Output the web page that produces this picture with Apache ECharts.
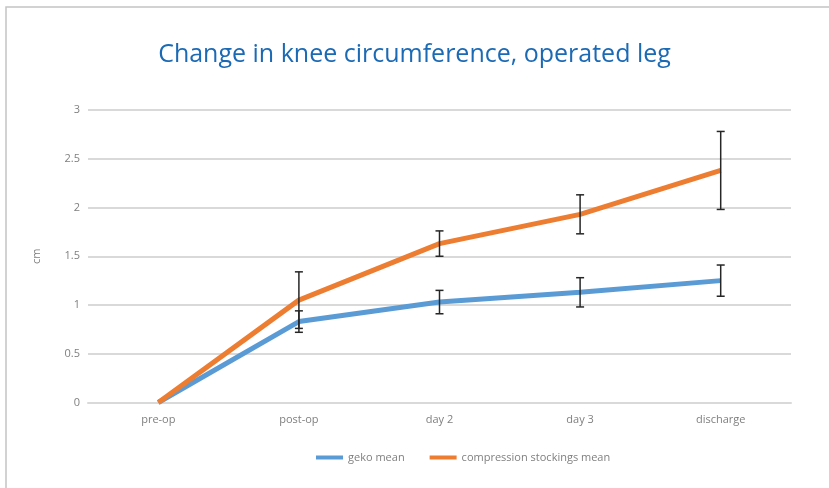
<!DOCTYPE html>
<html>
<head>
<meta charset="utf-8">
<script src="https://cdn.jsdelivr.net/npm/echarts@6/dist/echarts.min.js"></script>
<style>
  html, body { margin: 0; padding: 0; background: #fff; }
  #main { width: 829px; height: 488px; }
</style>
</head>
<body>
<div id="main"></div>
<script>
// data
var categories = ['pre-op', 'post-op', 'day 2', 'day 3', 'discharge']
var gekoMean = [0, 0.83, 1.03, 1.13, 1.25]
var gekoErr = [null, 0.11, 0.12, 0.15, 0.16]
var stockMean = [0, 1.05, 1.63, 1.93, 2.38]
var stockErr = [null, 0.29, 0.13, 0.2, 0.4]

function errData(mean, err) {
  var out = []
  for (var i = 0; i < mean.length; i++) {
    if (err[i] == null) continue
    out.push([i, mean[i] - err[i], mean[i] + err[i]])
  }
  return out
}

function renderErr(params, api) {
  var lo = api.coord([api.value(0), api.value(1)])
  var hi = api.coord([api.value(0), api.value(2)])
  var w = 4
  var style = { stroke: '#262626', lineWidth: 1.5 }
  return {
    type: 'group',
    children: [
      { type: 'line', shape: { x1: hi[0], y1: hi[1], x2: lo[0], y2: lo[1] }, style: style },
      { type: 'line', shape: { x1: hi[0] - w, y1: hi[1], x2: hi[0] + w, y2: hi[1] }, style: style },
      { type: 'line', shape: { x1: lo[0] - w, y1: lo[1], x2: lo[0] + w, y2: lo[1] }, style: style }
    ]
  }
}

var chart = echarts.init(document.getElementById('main'))
chart.setOption({
  animation: false,
  backgroundColor: '#fff',
  graphic: [{
    type: 'rect',
    shape: { x: 6, y: 7, width: 900, height: 600 },
    style: { fill: 'none', stroke: '#c4c4c4', lineWidth: 1.5 },
    silent: true
  }],
  title: {
    text: 'Change in knee circumference, operated leg',
    left: 'center',
    top: 37,
    textStyle: {
      fontFamily: 'Open Sans',
      fontSize: 25,
      fontWeight: 'normal',
      color: '#1b6ab5'
    }
  },
  grid: {
    left: 88,
    right: 38,
    top: 110,
    bottom: 85.5
  },
  legend: {
    left: 316,
    top: 452,
    padding: 0,
    itemWidth: 27,
    itemHeight: 4,
    itemGap: 25,
    icon: 'rect',
    textStyle: { fontFamily: 'Open Sans', fontSize: 11, color: '#7f7f7f' },
    data: ['geko mean', 'compression stockings mean']
  },
  xAxis: {
    type: 'category',
    data: categories,
    boundaryGap: true,
    axisLine: { lineStyle: { color: '#d9d9d9', width: 2 } },
    axisTick: { show: false },
    axisLabel: { color: '#7f7f7f', fontFamily: 'Open Sans', fontSize: 11, margin: 12 }
  },
  yAxis: {
    type: 'value',
    min: 0,
    max: 3,
    interval: 0.5,
    name: 'cm',
    nameLocation: 'middle',
    nameGap: 46,
    nameTextStyle: { color: '#7f7f7f', fontFamily: 'Open Sans', fontSize: 11 },
    axisLine: { show: false },
    axisTick: { show: false },
    axisLabel: { color: '#7f7f7f', fontFamily: 'Open Sans', fontSize: 11, margin: 8 },
    splitLine: { lineStyle: { color: '#d9d9d9', width: 2 } }
  },
  series: [
    {
      name: 'geko mean',
      type: 'line',
      data: gekoMean,
      symbol: 'none',
      color: '#5b9bd5',
      lineStyle: { width: 5, color: '#5b9bd5' },
      z: 3
    },
    {
      name: 'compression stockings mean',
      type: 'line',
      data: stockMean,
      symbol: 'none',
      color: '#ed7d31',
      lineStyle: { width: 5, color: '#ed7d31' },
      z: 4
    },
    {
      name: 'geko err',
      type: 'custom',
      renderItem: renderErr,
      data: errData(gekoMean, gekoErr),
      encode: { x: 0, y: [1, 2] },
      z: 10
    },
    {
      name: 'stock err',
      type: 'custom',
      renderItem: renderErr,
      data: errData(stockMean, stockErr),
      encode: { x: 0, y: [1, 2] },
      z: 10
    }
  ]
})
</script>
</body>
</html>
